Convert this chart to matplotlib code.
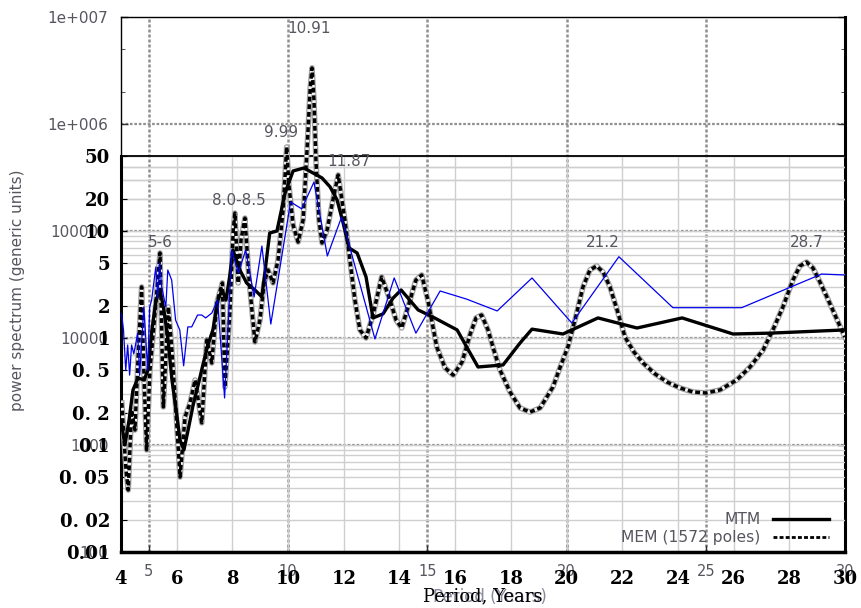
import matplotlib
matplotlib.use('Agg')
import matplotlib.pyplot as plt
from matplotlib.lines import Line2D
import matplotlib.ticker as mticker

# ---------------- data ----------------
blue_period = [4.02, 4.09, 4.17, 4.24, 4.31, 4.38, 4.46, 4.60, 4.67, 4.82, 4.96, 5.03, 5.10, 5.25,
               5.32, 5.39, 5.46, 5.61, 5.68, 5.82, 5.96, 6.11, 6.25, 6.40, 6.54, 6.75, 6.90, 7.04,
               7.26, 7.47, 7.72, 7.98, 8.21, 8.48, 8.78, 9.06, 9.38, 10.09, 10.49, 10.93, 11.41,
               11.92, 13.12, 13.81, 14.59, 15.46, 16.41, 17.51, 18.76, 20.19, 21.88, 23.82, 26.29,
               29.16, 30.0]
blue_power = [1.68, 1.19, 0.50, 0.86, 0.45, 0.86, 0.71, 1.11, 0.45, 1.95, 0.50, 1.95, 2.26, 4.61,
              2.36, 5.02, 3.00, 1.95, 4.32, 3.48, 1.47, 1.19, 0.55, 1.27, 1.27, 1.64, 1.64, 1.54,
              1.71, 2.26, 0.275, 6.64, 4.05, 6.64, 2.42, 7.24, 1.35, 18.7, 16.1, 28.7, 5.84,
              13.5, 0.98, 3.64, 1.11, 2.75, 2.31, 1.79, 3.64, 1.38, 5.75, 1.92, 1.92, 3.96, 3.88]

mtm_period = [4.00, 4.14, 4.29, 4.43, 4.61, 4.83, 4.97, 5.11, 5.26, 5.40, 5.54, 5.69, 5.83, 5.98,
              6.12, 6.26, 6.41, 6.59, 6.77, 6.94, 7.12, 7.30, 7.48, 7.63, 7.77, 7.91, 8.02, 8.27,
              8.51, 8.81, 9.06, 9.34, 9.60, 9.89, 10.18, 10.57, 10.90, 11.22, 11.51, 11.76, 11.97,
              12.19, 12.48, 12.80, 13.05, 13.41, 13.77, 14.06, 14.67, 15.20, 16.07, 16.82, 17.72,
              18.33, 18.76, 19.87, 21.13, 22.53, 24.15, 25.98, 27.31, 30.00]
mtm_power = [0.171, 0.100, 0.171, 0.327, 0.423, 0.405, 0.502, 1.19, 2.26, 2.81, 1.83, 0.958, 0.405,
             0.212, 0.111, 0.090, 0.138, 0.236, 0.364, 0.560, 0.86, 1.19, 2.26, 2.81, 2.26, 3.88,
             6.64, 4.32, 3.27, 2.81, 2.42, 9.58, 10.0, 22.6, 36.4, 38.8, 34.8, 31.3, 25.8, 19.5,
             12.1, 6.94, 6.23, 3.72, 1.54, 1.68, 2.36, 2.81, 1.83, 1.57, 1.19, 0.536, 0.560,
             0.898, 1.21, 1.09, 1.54, 1.24, 1.54, 1.09, 1.11, 1.19]

mem_period = [4.03, 4.11, 4.18, 4.26, 4.32, 4.38, 4.50, 4.61, 4.74, 4.83, 4.92, 5.04, 5.22, 5.29,
              5.40, 5.52, 5.70, 5.82, 5.94, 6.12, 6.30, 6.48, 6.66, 6.90, 7.08, 7.26, 7.44, 7.64,
              7.73, 7.91, 8.03, 8.09, 8.21, 8.31, 8.45, 8.60, 8.81, 8.99, 9.14, 9.28, 9.46, 9.64,
              9.82, 9.95, 10.03, 10.18, 10.36, 10.54, 10.68, 10.79, 10.86, 10.93, 11.00, 11.11,
              11.22, 11.40, 11.61, 11.80, 12.04, 12.22, 12.40, 12.58, 12.80, 13.05, 13.36, 13.66,
              13.88, 14.08, 14.38, 14.59, 14.80, 15.02, 15.34, 15.64, 15.93, 16.25, 16.53, 16.75,
              16.95, 17.18, 17.39, 17.61, 17.97, 18.33, 18.69, 19.05, 19.51, 19.80, 20.05, 20.34,
              20.59, 20.84, 21.08, 21.31, 21.56, 21.85, 22.10, 22.42, 22.75, 23.18, 23.61, 24.08,
              24.54, 25.01, 25.51, 26.11, 26.59, 27.06, 27.41, 27.77, 28.13, 28.38, 28.62, 28.85,
              29.10, 29.35, 29.64, 29.93, 30.00]
mem_power = [0.247, 0.111, 0.0584, 0.0380, 0.090, 0.212, 0.138, 0.623, 3.00, 0.405, 0.090, 0.502,
             1.71, 2.81, 6.23, 0.227, 1.95, 0.824, 0.281, 0.0502, 0.183, 0.247, 0.405, 0.161,
             0.958, 0.584, 2.12, 3.27, 0.348, 1.71, 10.2, 14.7, 3.27, 8.24, 13.2, 3.48, 0.918,
             1.47, 3.27, 4.32, 3.27, 5.36, 15.7, 61.0, 26.9, 11.4, 7.89, 12.7, 57.1, 208, 334,
             168, 46.1, 12.7, 7.73, 10.2, 19.5, 33.4, 12.7, 5.36, 2.26, 1.19, 1.00, 1.64, 3.72,
             2.26, 1.47, 1.24, 2.26, 3.48, 3.88, 2.26, 0.824, 0.525, 0.45, 0.597, 1.07, 1.54,
             1.64, 1.19, 0.772, 0.502, 0.313, 0.222, 0.203, 0.222, 0.348, 0.560, 0.824, 1.61,
             3.00, 4.32, 4.71, 4.14, 3.00, 1.71, 1.02, 0.740, 0.584, 0.461, 0.388, 0.341, 0.313,
             0.306, 0.327, 0.405, 0.536, 0.772, 1.19, 1.95, 3.48, 4.71, 5.13, 4.51, 3.34, 2.42,
             1.64, 1.11, 1.02]

fg_yticks = [0.01, 0.02, 0.05, 0.1, 0.2, 0.5, 1, 2, 5, 10, 20, 50]
fg_ylabels = ['0.01', '0. 02', '0. 05', '0.1', '0. 2', '0. 5', '1', '2', '5', '10', '20', '50']
fg_xticks = list(range(4, 31, 2))
bg_xticks = [5, 10, 15, 20, 25, 30]
bg_yticks = [1e2, 1e3, 1e4, 1e5, 1e6, 1e7]
bg_ylabels = ['100', '1000', '10000', '100000', '1e+006', '1e+007']

peak_labels = ['10.91', '9.99', '11.87', '8.0-8.5', '5-6', '21.2', '28.7']
peak_x = [10.75, 9.75, 12.19, 8.24, 5.40, 21.31, 28.64]
peak_y = [780, 82.4, 44.2, 19.1, 7.73, 7.89, 7.89]

# ---------------- figure ----------------
fig = plt.figure(figsize=(8.62, 6.08), dpi=100)
rect = [121 / 862, 1 - 552 / 608, 724 / 862, 535 / 608]
gray_txt = '#56565f'

# background (gnuplot-like) axes
axb = fig.add_axes(rect)
axb.set_xlim(4, 30)
axb.set_yscale('log')
axb.set_ylim(1e2, 1e7)
axb.set_xticks(bg_xticks)
axb.set_xticklabels([str(v) for v in bg_xticks], color=gray_txt, fontsize=10.5)
axb.set_yticks(bg_yticks)
axb.set_yticklabels(bg_ylabels, color=gray_txt, fontsize=11)
axb.yaxis.set_minor_locator(mticker.LogLocator(base=10, subs=(2.0, 5.0)))
axb.yaxis.set_minor_formatter(mticker.NullFormatter())
axb.tick_params(axis='both', which='major', direction='in', length=5, width=1, pad=9,
                right=True, colors='#333333', labelcolor=gray_txt)
axb.tick_params(axis='y', which='minor', direction='in', length=3, right=True, color='#333333')
axb.tick_params(axis='x', which='major', pad=9)
for xv in bg_xticks[:-1]:
    axb.axvline(xv, color='#8f8f8f', lw=1.8, ls=(0, (1.2, 0.8)), zorder=1)
for yv in [1e3, 1e4, 1e5, 1e6]:
    axb.axhline(yv, color='#8f8f8f', lw=1.6, ls=(0, (1.2, 0.8)), zorder=1)
for s in axb.spines.values():
    s.set_linewidth(1.0)
axb.spines['right'].set_linewidth(2.2)

# foreground axes
ax = fig.add_axes(rect)
ax.patch.set_alpha(0)
ax.set_xlim(4, 30)
ax.set_yscale('log')
ax.set_ylim(0.01, 1000)
ax.set_xticks(fg_xticks)
ax.set_xticklabels([str(v) for v in fg_xticks], fontfamily='DejaVu Serif',
                   fontweight='bold', fontsize=13)
ax.set_yticks(fg_yticks)
ax.set_yticklabels(fg_ylabels, fontfamily='DejaVu Serif', fontweight='bold', fontsize=13)
ax.yaxis.set_minor_locator(mticker.NullLocator())
ax.tick_params(axis='x', length=0, pad=13)
ax.tick_params(axis='y', direction='in', length=4, pad=8)
for s in ['top', 'right']:
    ax.spines[s].set_visible(False)
ax.spines['left'].set_bounds(0.01, 50)
ax.spines['left'].set_linewidth(2.2)
ax.spines['bottom'].set_linewidth(2.5)

# foreground light grid (only inside the lower panel)
grid_vals = [m * 10.0 ** e for e in range(-2, 2) for m in range(1, 10)] + [10 * m for m in range(2, 6)]
grid_vals = [g for g in grid_vals if 0.01 < g <= 50]
ax.hlines(grid_vals, 4, 30, color='#cfcfcf', lw=1.0, zorder=1)
ax.vlines(fg_xticks[1:-1], 0.01, 50, color='#cfcfcf', lw=1.0, zorder=1)
ax.axhline(50, color='black', lw=1.3, zorder=2)

# series
ax.plot(mem_period, mem_power, color='#a0a0a0', lw=4.0, zorder=3)
ax.plot(mem_period, mem_power, color='#f4f4f4', lw=2.3, zorder=3)
ax.plot(mem_period, mem_power, color='black', lw=2.5, ls=(0, (1.4, 0.8)), zorder=3)
ax.plot(mtm_period, mtm_power, color='black', lw=2.4, zorder=4)
ax.plot(blue_period, blue_power, color='#0000f0', lw=0.9, zorder=5)

for lab, xv, yv in zip(peak_labels, peak_x, peak_y):
    ax.text(xv, yv, lab, ha='center', va='center', color=gray_txt, fontsize=11, zorder=6)

handles = [Line2D([], [], color='black', lw=2.4),
           Line2D([], [], color='black', lw=2.0, ls=(0, (1.4, 0.8)))]
leg = ax.legend(handles, ['MTM', 'MEM (1572 poles)'], loc='lower right',
                bbox_to_anchor=(0.997, -0.014), frameon=False, markerfirst=False,
                fontsize=11.2, handlelength=3.6, labelspacing=0.2, handletextpad=0.8)
for t in leg.get_texts():
    t.set_color(gray_txt)

# axis labels
fig.text(490 / 862, 1 - 597 / 608, 'Period (Years)', ha='center', va='center',
         color='#8a8aa0', fontsize=12)
fig.text(483 / 862, 1 - 596 / 608, 'Period, Years', ha='center', va='center',
         color='black', fontsize=13, fontfamily='DejaVu Serif')
fig.text(18 / 862, 1 - 290 / 608, 'power spectrum (generic units)', rotation=90,
         ha='center', va='center', color=gray_txt, fontsize=11)

fig.savefig('out.png', dpi=100)
